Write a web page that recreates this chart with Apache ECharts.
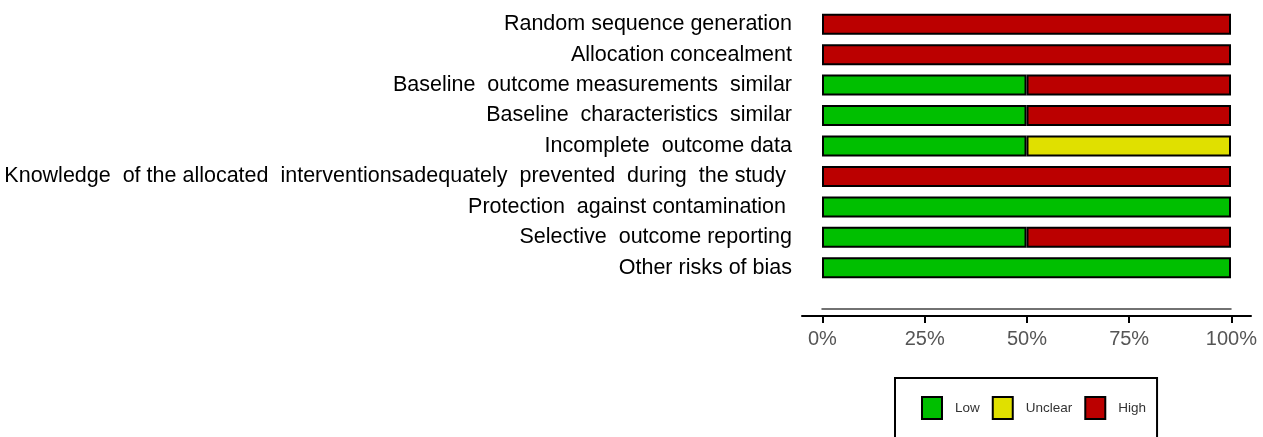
<!DOCTYPE html>
<html><head><meta charset="utf-8">
<script src="https://cdn.jsdelivr.net/npm/echarts@6/dist/echarts.min.js"></script>
<style>html,body{margin:0;padding:0;background:#fff}#c{width:1263px;height:437px}</style>
</head><body><div id="c"></div>
<script>
const categories = [
  'Random sequence generation',
  'Allocation concealment',
  'Baseline  outcome measurements  similar',
  'Baseline  characteristics  similar',
  'Incomplete  outcome data',
  'Knowledge  of the allocated  interventionsadequately  prevented  during  the study ',
  'Protection  against contamination ',
  'Selective  outcome reporting',
  'Other risks of bias'
];
const lowValues     = [0, 0, 50, 50, 50, 0, 100, 50, 100];
const unclearValues = [0, 0, 0, 0, 50, 0, 0, 0, 0];
const highValues    = [100, 100, 50, 50, 0, 100, 0, 50, 0];
const tickValues = [0, 25, 50, 75, 100];
const legendNames = ['Low', 'Unclear', 'High'];
const colors = ['#00BF00', '#E0E000', '#BB0000'];

const seriesValues = [lowValues, unclearValues, highValues];
const chart = echarts.init(document.getElementById('c'), null, {renderer: 'canvas'});
const LABEL_FONT = 'Liberation Sans, Arial, sans-serif';

chart.setOption({
  animation: false,
  backgroundColor: '#fff',
  grid: [
    {left: 822, right: 32, top: 9, bottom: 154},
    {left: 802, right: 12, top: 315, height: 1}
  ],
  legend: {
    data: legendNames,
    left: 895, top: 378,
    orient: 'horizontal',
    icon: 'rect',
    itemWidth: 20, itemHeight: 22, itemGap: 12,
    padding: [18, 11, 40, 26],
    borderColor: '#000', borderWidth: 2, borderRadius: 0,
    textStyle: {fontFamily: LABEL_FONT, fontSize: 13.5, color: '#333', padding: [0, 0, 0, 8]}
  },
  xAxis: [
    {
      gridIndex: 0, type: 'value', min: 0, max: 100,
      offset: 26,
      axisLine: {show: true, onZero: false, lineStyle: {color: '#444', width: 1.5}},
      axisTick: {show: false}, axisLabel: {show: false}, splitLine: {show: false}
    },
    {
      gridIndex: 1, type: 'value', min: -5, max: 104.8,
      axisLine: {show: true, onZero: false, lineStyle: {color: '#000', width: 2}},
      axisTick: {show: true, length: 7, lineStyle: {color: '#000', width: 2}, customValues: tickValues},
      axisLabel: {show: true, customValues: tickValues, formatter: '{value}%', fontFamily: LABEL_FONT, fontSize: 20, color: '#555', margin: 13},
      splitLine: {show: false}
    }
  ],
  yAxis: [
    {
      gridIndex: 0, type: 'category', data: categories, inverse: true,
      axisLine: {show: false}, axisTick: {show: false}, splitLine: {show: false},
      axisLabel: {fontFamily: LABEL_FONT, fontSize: 21.5, color: '#000', margin: 30}
    },
    {gridIndex: 1, type: 'value', show: false}
  ],
  series: legendNames.map((name, i) => ({
    name: name,
    type: 'bar',
    stack: 'risk',
    xAxisIndex: 0, yAxisIndex: 0,
    barWidth: 21,
    itemStyle: {color: colors[i], borderColor: '#000', borderWidth: 2},
    data: seriesValues[i].map(v => v === 0 ? '-' : v)
  }))
});
</script>
</body></html>
